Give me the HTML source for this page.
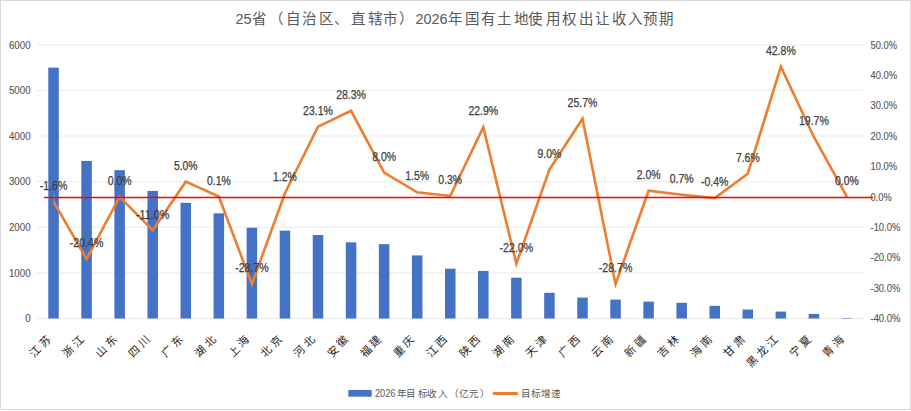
<!DOCTYPE html><html lang="zh-CN"><head><meta charset="utf-8"><title>chart</title><style>html,body{margin:0;padding:0;background:#fff;overflow:hidden;}svg{display:block;font-family:"Liberation Sans", sans-serif;}</style></head><body>
<svg width="911" height="411" viewBox="0 0 911 411">
<rect x="0" y="0" width="911" height="411" fill="#fff"/>
<rect x="0" y="0" width="911" height="1" fill="#D9D9D9"/><rect x="0" y="0" width="1" height="410" fill="#D9D9D9"/><rect x="910" y="0" width="1" height="410" fill="#D9D9D9"/><rect x="0" y="409" width="911" height="1" fill="#D9D9D9"/>
<line x1="37.0" y1="318.50" x2="863.5" y2="318.50" stroke="#E3E3E3" stroke-width="0.75"/>
<line x1="37.0" y1="272.88" x2="863.5" y2="272.88" stroke="#E3E3E3" stroke-width="0.75"/>
<line x1="37.0" y1="227.27" x2="863.5" y2="227.27" stroke="#E3E3E3" stroke-width="0.75"/>
<line x1="37.0" y1="181.65" x2="863.5" y2="181.65" stroke="#E3E3E3" stroke-width="0.75"/>
<line x1="37.0" y1="136.03" x2="863.5" y2="136.03" stroke="#E3E3E3" stroke-width="0.75"/>
<line x1="37.0" y1="90.42" x2="863.5" y2="90.42" stroke="#E3E3E3" stroke-width="0.75"/>
<line x1="37.0" y1="44.80" x2="863.5" y2="44.80" stroke="#E3E3E3" stroke-width="0.75"/>
<text x="30.6" y="322.30" font-size="10.67" fill="#595959" stroke="#595959" stroke-width="0.15" text-anchor="end" textLength="5.41" lengthAdjust="spacingAndGlyphs">0</text>
<text x="30.6" y="276.68" font-size="10.67" fill="#595959" stroke="#595959" stroke-width="0.15" text-anchor="end" textLength="21.64" lengthAdjust="spacingAndGlyphs">1000</text>
<text x="30.6" y="231.07" font-size="10.67" fill="#595959" stroke="#595959" stroke-width="0.15" text-anchor="end" textLength="21.64" lengthAdjust="spacingAndGlyphs">2000</text>
<text x="30.6" y="185.45" font-size="10.67" fill="#595959" stroke="#595959" stroke-width="0.15" text-anchor="end" textLength="21.64" lengthAdjust="spacingAndGlyphs">3000</text>
<text x="30.6" y="139.83" font-size="10.67" fill="#595959" stroke="#595959" stroke-width="0.15" text-anchor="end" textLength="21.64" lengthAdjust="spacingAndGlyphs">4000</text>
<text x="30.6" y="94.22" font-size="10.67" fill="#595959" stroke="#595959" stroke-width="0.15" text-anchor="end" textLength="21.64" lengthAdjust="spacingAndGlyphs">5000</text>
<text x="30.6" y="48.60" font-size="10.67" fill="#595959" stroke="#595959" stroke-width="0.15" text-anchor="end" textLength="21.64" lengthAdjust="spacingAndGlyphs">6000</text>
<text x="870.5" y="48.60" font-size="10.67" fill="#595959" stroke="#595959" stroke-width="0.15" textLength="26.55" lengthAdjust="spacingAndGlyphs">50.0%</text>
<text x="870.5" y="79.01" font-size="10.67" fill="#595959" stroke="#595959" stroke-width="0.15" textLength="26.55" lengthAdjust="spacingAndGlyphs">40.0%</text>
<text x="870.5" y="109.42" font-size="10.67" fill="#595959" stroke="#595959" stroke-width="0.15" textLength="26.55" lengthAdjust="spacingAndGlyphs">30.0%</text>
<text x="870.5" y="139.83" font-size="10.67" fill="#595959" stroke="#595959" stroke-width="0.15" textLength="26.55" lengthAdjust="spacingAndGlyphs">20.0%</text>
<text x="870.5" y="170.24" font-size="10.67" fill="#595959" stroke="#595959" stroke-width="0.15" textLength="26.55" lengthAdjust="spacingAndGlyphs">10.0%</text>
<text x="870.5" y="200.66" font-size="10.67" fill="#595959" stroke="#595959" stroke-width="0.15" textLength="21.14" lengthAdjust="spacingAndGlyphs">0.0%</text>
<text x="870.5" y="231.07" font-size="10.67" fill="#595959" stroke="#595959" stroke-width="0.15" textLength="29.81" lengthAdjust="spacingAndGlyphs">-10.0%</text>
<text x="870.5" y="261.48" font-size="10.67" fill="#595959" stroke="#595959" stroke-width="0.15" textLength="29.81" lengthAdjust="spacingAndGlyphs">-20.0%</text>
<text x="870.5" y="291.89" font-size="10.67" fill="#595959" stroke="#595959" stroke-width="0.15" textLength="29.81" lengthAdjust="spacingAndGlyphs">-30.0%</text>
<text x="870.5" y="322.30" font-size="10.67" fill="#595959" stroke="#595959" stroke-width="0.15" textLength="29.81" lengthAdjust="spacingAndGlyphs">-40.0%</text>
<rect x="48.28" y="67.61" width="10.5" height="250.89" fill="#4472C4"/>
<rect x="81.34" y="160.89" width="10.5" height="157.61" fill="#4472C4"/>
<rect x="114.40" y="170.20" width="10.5" height="148.30" fill="#4472C4"/>
<rect x="147.46" y="190.91" width="10.5" height="127.59" fill="#4472C4"/>
<rect x="180.52" y="202.82" width="10.5" height="115.68" fill="#4472C4"/>
<rect x="213.58" y="213.31" width="10.5" height="105.19" fill="#4472C4"/>
<rect x="246.64" y="227.72" width="10.5" height="90.78" fill="#4472C4"/>
<rect x="279.70" y="230.69" width="10.5" height="87.81" fill="#4472C4"/>
<rect x="312.76" y="235.02" width="10.5" height="83.48" fill="#4472C4"/>
<rect x="345.82" y="242.32" width="10.5" height="76.18" fill="#4472C4"/>
<rect x="378.88" y="244.14" width="10.5" height="74.36" fill="#4472C4"/>
<rect x="411.94" y="255.41" width="10.5" height="63.09" fill="#4472C4"/>
<rect x="445.00" y="268.69" width="10.5" height="49.81" fill="#4472C4"/>
<rect x="478.06" y="270.92" width="10.5" height="47.58" fill="#4472C4"/>
<rect x="511.12" y="277.72" width="10.5" height="40.78" fill="#4472C4"/>
<rect x="544.18" y="292.82" width="10.5" height="25.68" fill="#4472C4"/>
<rect x="577.24" y="297.61" width="10.5" height="20.89" fill="#4472C4"/>
<rect x="610.30" y="299.61" width="10.5" height="18.89" fill="#4472C4"/>
<rect x="643.36" y="301.62" width="10.5" height="16.88" fill="#4472C4"/>
<rect x="676.42" y="302.81" width="10.5" height="15.69" fill="#4472C4"/>
<rect x="709.48" y="305.82" width="10.5" height="12.68" fill="#4472C4"/>
<rect x="742.54" y="309.51" width="10.5" height="8.99" fill="#4472C4"/>
<rect x="775.60" y="311.61" width="10.5" height="6.89" fill="#4472C4"/>
<rect x="808.66" y="313.89" width="10.5" height="4.61" fill="#4472C4"/>
<rect x="841.72" y="317.95" width="10.5" height="0.55" fill="#4472C4"/>
<polyline points="53.53,201.72 86.59,258.89 119.65,196.86 152.71,230.31 185.77,181.65 218.83,196.55 251.89,284.14 284.95,193.21 318.01,126.61 351.07,110.79 384.13,172.53 417.19,192.29 450.25,195.94 483.31,127.21 516.37,263.76 549.43,169.49 582.49,118.70 615.55,284.14 648.61,190.77 681.67,194.73 714.73,198.07 747.79,173.74 780.85,66.70 813.91,136.95 846.97,196.86" fill="none" stroke="#ED7D31" stroke-width="2.6" stroke-linejoin="miter" stroke-miterlimit="10" stroke-linecap="butt"/>
<text x="53.53" y="189.92" font-size="12" fill="#404040" stroke="#404040" stroke-width="0.25" text-anchor="middle" textLength="27.44" lengthAdjust="spacingAndGlyphs">-1.6%</text>
<text x="86.59" y="247.09" font-size="12" fill="#404040" stroke="#404040" stroke-width="0.25" text-anchor="middle" textLength="33.53" lengthAdjust="spacingAndGlyphs">-20.4%</text>
<text x="119.65" y="185.06" font-size="12" fill="#404040" stroke="#404040" stroke-width="0.25" text-anchor="middle" textLength="23.77" lengthAdjust="spacingAndGlyphs">0.0%</text>
<text x="152.71" y="218.51" font-size="12" fill="#404040" stroke="#404040" stroke-width="0.25" text-anchor="middle" textLength="33.53" lengthAdjust="spacingAndGlyphs">-11.0%</text>
<text x="185.77" y="169.85" font-size="12" fill="#404040" stroke="#404040" stroke-width="0.25" text-anchor="middle" textLength="23.77" lengthAdjust="spacingAndGlyphs">5.0%</text>
<text x="218.83" y="184.75" font-size="12" fill="#404040" stroke="#404040" stroke-width="0.25" text-anchor="middle" textLength="23.77" lengthAdjust="spacingAndGlyphs">0.1%</text>
<text x="251.89" y="272.34" font-size="12" fill="#404040" stroke="#404040" stroke-width="0.25" text-anchor="middle" textLength="33.53" lengthAdjust="spacingAndGlyphs">-28.7%</text>
<text x="284.95" y="181.41" font-size="12" fill="#404040" stroke="#404040" stroke-width="0.25" text-anchor="middle" textLength="23.77" lengthAdjust="spacingAndGlyphs">1.2%</text>
<text x="318.01" y="114.81" font-size="12" fill="#404040" stroke="#404040" stroke-width="0.25" text-anchor="middle" textLength="29.86" lengthAdjust="spacingAndGlyphs">23.1%</text>
<text x="351.07" y="98.99" font-size="12" fill="#404040" stroke="#404040" stroke-width="0.25" text-anchor="middle" textLength="29.86" lengthAdjust="spacingAndGlyphs">28.3%</text>
<text x="384.13" y="160.73" font-size="12" fill="#404040" stroke="#404040" stroke-width="0.25" text-anchor="middle" textLength="23.77" lengthAdjust="spacingAndGlyphs">8.0%</text>
<text x="417.19" y="180.49" font-size="12" fill="#404040" stroke="#404040" stroke-width="0.25" text-anchor="middle" textLength="23.77" lengthAdjust="spacingAndGlyphs">1.5%</text>
<text x="450.25" y="184.14" font-size="12" fill="#404040" stroke="#404040" stroke-width="0.25" text-anchor="middle" textLength="23.77" lengthAdjust="spacingAndGlyphs">0.3%</text>
<text x="483.31" y="115.41" font-size="12" fill="#404040" stroke="#404040" stroke-width="0.25" text-anchor="middle" textLength="29.86" lengthAdjust="spacingAndGlyphs">22.9%</text>
<text x="516.37" y="251.96" font-size="12" fill="#404040" stroke="#404040" stroke-width="0.25" text-anchor="middle" textLength="33.53" lengthAdjust="spacingAndGlyphs">-22.0%</text>
<text x="549.43" y="157.69" font-size="12" fill="#404040" stroke="#404040" stroke-width="0.25" text-anchor="middle" textLength="23.77" lengthAdjust="spacingAndGlyphs">9.0%</text>
<text x="582.49" y="106.90" font-size="12" fill="#404040" stroke="#404040" stroke-width="0.25" text-anchor="middle" textLength="29.86" lengthAdjust="spacingAndGlyphs">25.7%</text>
<text x="615.55" y="272.34" font-size="12" fill="#404040" stroke="#404040" stroke-width="0.25" text-anchor="middle" textLength="33.53" lengthAdjust="spacingAndGlyphs">-28.7%</text>
<text x="648.61" y="178.97" font-size="12" fill="#404040" stroke="#404040" stroke-width="0.25" text-anchor="middle" textLength="23.77" lengthAdjust="spacingAndGlyphs">2.0%</text>
<text x="681.67" y="182.93" font-size="12" fill="#404040" stroke="#404040" stroke-width="0.25" text-anchor="middle" textLength="23.77" lengthAdjust="spacingAndGlyphs">0.7%</text>
<text x="714.73" y="186.27" font-size="12" fill="#404040" stroke="#404040" stroke-width="0.25" text-anchor="middle" textLength="27.44" lengthAdjust="spacingAndGlyphs">-0.4%</text>
<text x="747.79" y="161.94" font-size="12" fill="#404040" stroke="#404040" stroke-width="0.25" text-anchor="middle" textLength="23.77" lengthAdjust="spacingAndGlyphs">7.6%</text>
<text x="780.85" y="54.90" font-size="12" fill="#404040" stroke="#404040" stroke-width="0.25" text-anchor="middle" textLength="29.86" lengthAdjust="spacingAndGlyphs">42.8%</text>
<text x="813.91" y="125.15" font-size="12" fill="#404040" stroke="#404040" stroke-width="0.25" text-anchor="middle" textLength="29.86" lengthAdjust="spacingAndGlyphs">19.7%</text>
<text x="846.97" y="185.06" font-size="12" fill="#404040" stroke="#404040" stroke-width="0.25" text-anchor="middle" textLength="23.77" lengthAdjust="spacingAndGlyphs">0.0%</text>
<line x1="54.2" y1="194.5" x2="54.2" y2="201.5" stroke="#A6A6A6" stroke-width="0.75"/>
<text x="35.04" y="351.33" font-size="11" fill="#262626" text-anchor="middle" dominant-baseline="central" transform="rotate(-45 35.04 351.33)">江</text>
<text x="44.80" y="341.57" font-size="11" fill="#262626" text-anchor="middle" dominant-baseline="central" transform="rotate(-45 44.80 341.57)">苏</text>
<text x="68.14" y="351.29" font-size="11" fill="#262626" text-anchor="middle" dominant-baseline="central" transform="rotate(-45 68.14 351.29)">浙</text>
<text x="77.86" y="341.57" font-size="11" fill="#262626" text-anchor="middle" dominant-baseline="central" transform="rotate(-45 77.86 341.57)">江</text>
<text x="101.16" y="351.25" font-size="11" fill="#262626" text-anchor="middle" dominant-baseline="central" transform="rotate(-45 101.16 351.25)">山</text>
<text x="110.96" y="341.61" font-size="11" fill="#262626" text-anchor="middle" dominant-baseline="central" transform="rotate(-45 110.96 341.61)">东</text>
<text x="134.07" y="351.10" font-size="11" fill="#262626" text-anchor="middle" dominant-baseline="central" transform="rotate(-45 134.07 351.10)">四</text>
<text x="144.10" y="340.99" font-size="11" fill="#262626" text-anchor="middle" dominant-baseline="central" transform="rotate(-45 144.10 340.99)">川</text>
<text x="167.36" y="351.17" font-size="11" fill="#262626" text-anchor="middle" dominant-baseline="central" transform="rotate(-45 167.36 351.17)">广</text>
<text x="177.08" y="341.61" font-size="11" fill="#262626" text-anchor="middle" dominant-baseline="central" transform="rotate(-45 177.08 341.61)">东</text>
<text x="200.46" y="351.14" font-size="11" fill="#262626" text-anchor="middle" dominant-baseline="central" transform="rotate(-45 200.46 351.14)">湖</text>
<text x="210.10" y="341.57" font-size="11" fill="#262626" text-anchor="middle" dominant-baseline="central" transform="rotate(-45 210.10 341.57)">北</text>
<text x="233.60" y="351.45" font-size="11" fill="#262626" text-anchor="middle" dominant-baseline="central" transform="rotate(-45 233.60 351.45)">上</text>
<text x="243.20" y="341.61" font-size="11" fill="#262626" text-anchor="middle" dominant-baseline="central" transform="rotate(-45 243.20 341.61)">海</text>
<text x="266.46" y="351.33" font-size="11" fill="#262626" text-anchor="middle" dominant-baseline="central" transform="rotate(-45 266.46 351.33)">北</text>
<text x="276.26" y="341.53" font-size="11" fill="#262626" text-anchor="middle" dominant-baseline="central" transform="rotate(-45 276.26 341.53)">京</text>
<text x="299.56" y="351.21" font-size="11" fill="#262626" text-anchor="middle" dominant-baseline="central" transform="rotate(-45 299.56 351.21)">河</text>
<text x="309.28" y="341.57" font-size="11" fill="#262626" text-anchor="middle" dominant-baseline="central" transform="rotate(-45 309.28 341.57)">北</text>
<text x="332.66" y="351.33" font-size="11" fill="#262626" text-anchor="middle" dominant-baseline="central" transform="rotate(-45 332.66 351.33)">安</text>
<text x="342.42" y="341.49" font-size="11" fill="#262626" text-anchor="middle" dominant-baseline="central" transform="rotate(-45 342.42 341.49)">徽</text>
<text x="365.80" y="351.10" font-size="11" fill="#262626" text-anchor="middle" dominant-baseline="central" transform="rotate(-45 365.80 351.10)">福</text>
<text x="375.44" y="341.53" font-size="11" fill="#262626" text-anchor="middle" dominant-baseline="central" transform="rotate(-45 375.44 341.53)">建</text>
<text x="398.86" y="351.41" font-size="11" fill="#262626" text-anchor="middle" dominant-baseline="central" transform="rotate(-45 398.86 351.41)">重</text>
<text x="408.54" y="341.49" font-size="11" fill="#262626" text-anchor="middle" dominant-baseline="central" transform="rotate(-45 408.54 341.49)">庆</text>
<text x="431.76" y="351.33" font-size="11" fill="#262626" text-anchor="middle" dominant-baseline="central" transform="rotate(-45 431.76 351.33)">江</text>
<text x="441.33" y="341.30" font-size="11" fill="#262626" text-anchor="middle" dominant-baseline="central" transform="rotate(-45 441.33 341.30)">西</text>
<text x="464.71" y="351.37" font-size="11" fill="#262626" text-anchor="middle" dominant-baseline="central" transform="rotate(-45 464.71 351.37)">陕</text>
<text x="474.39" y="341.30" font-size="11" fill="#262626" text-anchor="middle" dominant-baseline="central" transform="rotate(-45 474.39 341.30)">西</text>
<text x="498.00" y="351.14" font-size="11" fill="#262626" text-anchor="middle" dominant-baseline="central" transform="rotate(-45 498.00 351.14)">湖</text>
<text x="507.64" y="341.49" font-size="11" fill="#262626" text-anchor="middle" dominant-baseline="central" transform="rotate(-45 507.64 341.49)">南</text>
<text x="530.63" y="351.02" font-size="11" fill="#262626" text-anchor="middle" dominant-baseline="central" transform="rotate(-45 530.63 351.02)">天</text>
<text x="540.78" y="341.57" font-size="11" fill="#262626" text-anchor="middle" dominant-baseline="central" transform="rotate(-45 540.78 341.57)">津</text>
<text x="564.08" y="351.17" font-size="11" fill="#262626" text-anchor="middle" dominant-baseline="central" transform="rotate(-45 564.08 351.17)">广</text>
<text x="573.57" y="341.30" font-size="11" fill="#262626" text-anchor="middle" dominant-baseline="central" transform="rotate(-45 573.57 341.30)">西</text>
<text x="596.75" y="350.94" font-size="11" fill="#262626" text-anchor="middle" dominant-baseline="central" transform="rotate(-45 596.75 350.94)">云</text>
<text x="606.82" y="341.49" font-size="11" fill="#262626" text-anchor="middle" dominant-baseline="central" transform="rotate(-45 606.82 341.49)">南</text>
<text x="630.20" y="351.33" font-size="11" fill="#262626" text-anchor="middle" dominant-baseline="central" transform="rotate(-45 630.20 351.33)">新</text>
<text x="639.80" y="341.42" font-size="11" fill="#262626" text-anchor="middle" dominant-baseline="central" transform="rotate(-45 639.80 341.42)">疆</text>
<text x="663.22" y="351.21" font-size="11" fill="#262626" text-anchor="middle" dominant-baseline="central" transform="rotate(-45 663.22 351.21)">吉</text>
<text x="672.98" y="341.53" font-size="11" fill="#262626" text-anchor="middle" dominant-baseline="central" transform="rotate(-45 672.98 341.53)">林</text>
<text x="696.28" y="351.37" font-size="11" fill="#262626" text-anchor="middle" dominant-baseline="central" transform="rotate(-45 696.28 351.37)">海</text>
<text x="706.00" y="341.49" font-size="11" fill="#262626" text-anchor="middle" dominant-baseline="central" transform="rotate(-45 706.00 341.49)">南</text>
<text x="729.34" y="351.29" font-size="11" fill="#262626" text-anchor="middle" dominant-baseline="central" transform="rotate(-45 729.34 351.29)">甘</text>
<text x="739.14" y="341.49" font-size="11" fill="#262626" text-anchor="middle" dominant-baseline="central" transform="rotate(-45 739.14 341.49)">肃</text>
<text x="752.41" y="360.89" font-size="11" fill="#262626" text-anchor="middle" dominant-baseline="central" transform="rotate(-45 752.41 360.89)">黑</text>
<text x="762.44" y="351.33" font-size="11" fill="#262626" text-anchor="middle" dominant-baseline="central" transform="rotate(-45 762.44 351.33)">龙</text>
<text x="772.12" y="341.57" font-size="11" fill="#262626" text-anchor="middle" dominant-baseline="central" transform="rotate(-45 772.12 341.57)">江</text>
<text x="795.50" y="351.33" font-size="11" fill="#262626" text-anchor="middle" dominant-baseline="central" transform="rotate(-45 795.50 351.33)">宁</text>
<text x="805.03" y="341.34" font-size="11" fill="#262626" text-anchor="middle" dominant-baseline="central" transform="rotate(-45 805.03 341.34)">夏</text>
<text x="828.48" y="351.25" font-size="11" fill="#262626" text-anchor="middle" dominant-baseline="central" transform="rotate(-45 828.48 351.25)">青</text>
<text x="838.28" y="341.61" font-size="11" fill="#262626" text-anchor="middle" dominant-baseline="central" transform="rotate(-45 838.28 341.61)">海</text>
<line x1="44" y1="197.5" x2="873" y2="197.5" stroke="#FF0000" stroke-width="1.5"/>
<text x="235.4" y="23.8" font-size="14.7" fill="#595959" textLength="16.1" lengthAdjust="spacingAndGlyphs">25</text>
<text x="415.4" y="23.8" font-size="14.7" fill="#595959" textLength="32" lengthAdjust="spacingAndGlyphs">2026</text>
<text x="258.82" y="19.26" font-size="14.5" fill="#595959" text-anchor="middle" dominant-baseline="central">省</text>
<text x="276.21" y="19.26" font-size="14.5" fill="#595959" text-anchor="middle" dominant-baseline="central">（</text>
<text x="292.60" y="19.26" font-size="14.5" fill="#595959" text-anchor="middle" dominant-baseline="central">自</text>
<text x="308.92" y="19.26" font-size="14.5" fill="#595959" text-anchor="middle" dominant-baseline="central">治</text>
<text x="325.91" y="19.26" font-size="14.5" fill="#595959" text-anchor="middle" dominant-baseline="central">区</text>
<text x="341.12" y="19.26" font-size="14.5" fill="#595959" text-anchor="middle" dominant-baseline="central">、</text>
<text x="358.30" y="19.26" font-size="14.5" fill="#595959" text-anchor="middle" dominant-baseline="central">直</text>
<text x="375.25" y="19.26" font-size="14.5" fill="#595959" text-anchor="middle" dominant-baseline="central">辖</text>
<text x="389.77" y="19.26" font-size="14.5" fill="#595959" text-anchor="middle" dominant-baseline="central">市</text>
<text x="405.64" y="19.26" font-size="14.5" fill="#595959" text-anchor="middle" dominant-baseline="central">）</text>
<text x="455.17" y="19.26" font-size="14.5" fill="#595959" text-anchor="middle" dominant-baseline="central">年</text>
<text x="472.27" y="19.26" font-size="14.5" fill="#595959" text-anchor="middle" dominant-baseline="central">国</text>
<text x="487.92" y="19.26" font-size="14.5" fill="#595959" text-anchor="middle" dominant-baseline="central">有</text>
<text x="504.27" y="19.26" font-size="14.5" fill="#595959" text-anchor="middle" dominant-baseline="central">土</text>
<text x="520.57" y="19.26" font-size="14.5" fill="#595959" text-anchor="middle" dominant-baseline="central">地</text>
<text x="535.14" y="19.26" font-size="14.5" fill="#595959" text-anchor="middle" dominant-baseline="central">使</text>
<text x="553.08" y="19.26" font-size="14.5" fill="#595959" text-anchor="middle" dominant-baseline="central">用</text>
<text x="568.52" y="19.26" font-size="14.5" fill="#595959" text-anchor="middle" dominant-baseline="central">权</text>
<text x="585.64" y="19.26" font-size="14.5" fill="#595959" text-anchor="middle" dominant-baseline="central">出</text>
<text x="602.20" y="19.26" font-size="14.5" fill="#595959" text-anchor="middle" dominant-baseline="central">让</text>
<text x="618.73" y="19.26" font-size="14.5" fill="#595959" text-anchor="middle" dominant-baseline="central">收</text>
<text x="634.70" y="19.26" font-size="14.5" fill="#595959" text-anchor="middle" dominant-baseline="central">入</text>
<text x="650.07" y="19.26" font-size="14.5" fill="#595959" text-anchor="middle" dominant-baseline="central">预</text>
<text x="666.19" y="19.26" font-size="14.5" fill="#595959" text-anchor="middle" dominant-baseline="central">期</text>
<rect x="348.3" y="390" width="23.4" height="6.7" fill="#4472C4"/>
<text x="375" y="396.6" font-size="10" fill="#595959" textLength="20.5" lengthAdjust="spacingAndGlyphs">2026</text>
<text x="401.55" y="393.54" font-size="9.6" fill="#595959" text-anchor="middle" dominant-baseline="central">年</text>
<text x="411.35" y="393.54" font-size="9.6" fill="#595959" text-anchor="middle" dominant-baseline="central">目</text>
<text x="422.60" y="393.54" font-size="9.6" fill="#595959" text-anchor="middle" dominant-baseline="central">标</text>
<text x="432.45" y="393.54" font-size="9.6" fill="#595959" text-anchor="middle" dominant-baseline="central">收</text>
<text x="443.00" y="393.54" font-size="9.6" fill="#595959" text-anchor="middle" dominant-baseline="central">入</text>
<text x="454.08" y="393.54" font-size="9.6" fill="#595959" text-anchor="middle" dominant-baseline="central">（</text>
<text x="464.19" y="393.54" font-size="9.6" fill="#595959" text-anchor="middle" dominant-baseline="central">亿</text>
<text x="474.30" y="393.54" font-size="9.6" fill="#595959" text-anchor="middle" dominant-baseline="central">元</text>
<text x="484.62" y="393.54" font-size="9.6" fill="#595959" text-anchor="middle" dominant-baseline="central">）</text>
<text x="525.75" y="393.54" font-size="9.6" fill="#595959" text-anchor="middle" dominant-baseline="central">目</text>
<text x="536.10" y="393.54" font-size="9.6" fill="#595959" text-anchor="middle" dominant-baseline="central">标</text>
<text x="546.09" y="393.54" font-size="9.6" fill="#595959" text-anchor="middle" dominant-baseline="central">增</text>
<text x="556.25" y="393.54" font-size="9.6" fill="#595959" text-anchor="middle" dominant-baseline="central">速</text>
<line x1="494" y1="393.4" x2="516.7" y2="393.4" stroke="#ED7D31" stroke-width="3" stroke-linecap="round"/>
</svg></body></html>
